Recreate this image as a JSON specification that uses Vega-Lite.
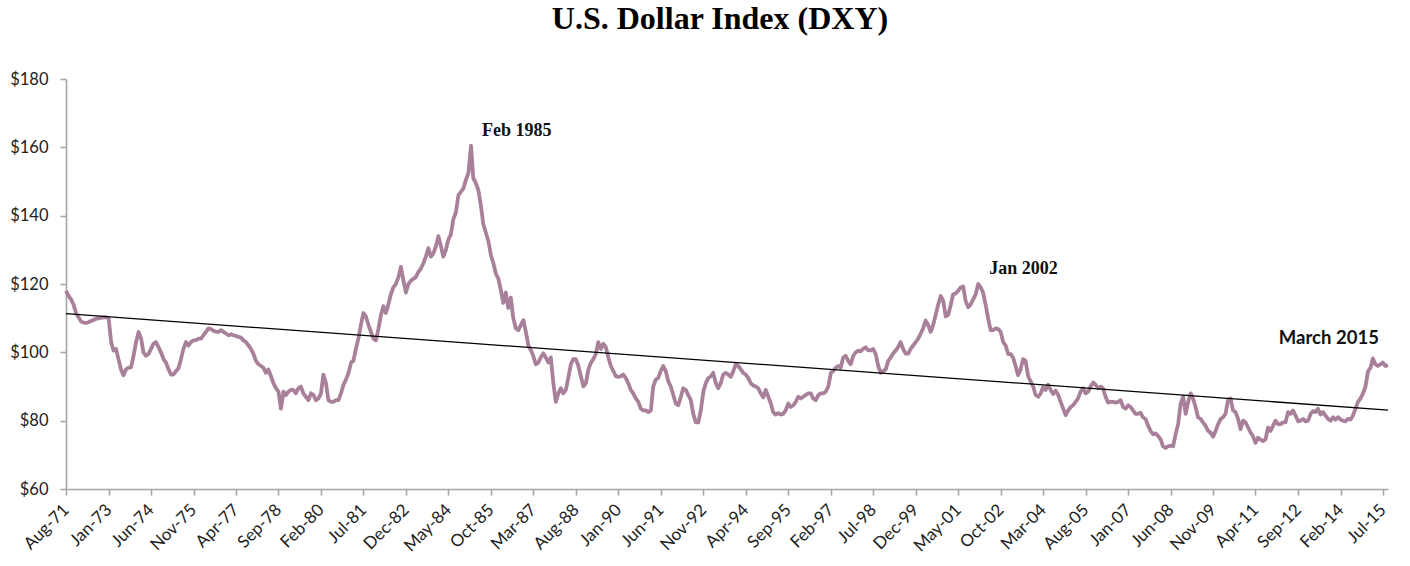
{
  "$schema": "https://vega.github.io/schema/vega-lite/v6.json",
  "width": 1322,
  "height": 410,
  "autosize": {"type": "none"},
  "padding": {"left": 66, "top": 79, "right": 22, "bottom": 77},
  "background": "white",
  "config": {
    "view": {"stroke": null},
    "axis": {
      "grid": false,
      "domainColor": "#a6a6a6",
      "domainWidth": 1.6,
      "tickColor": "#a6a6a6",
      "tickWidth": 1.6,
      "tickSize": 6,
      "labelFont": "Lato",
      "labelFontSize": 16.5,
      "labelColor": "#222222",
      "title": null
    }
  },
  "title": {
    "text": "U.S. Dollar Index (DXY)",
    "font": "Liberation Serif",
    "fontSize": 32,
    "fontWeight": "bold",
    "color": "#000000",
    "anchor": "middle",
    "baseline": "alphabetic",
    "offset": 10,
    "dx": -7
  },
  "datasets": {
    "dxy": [
      {"date":"1971-08-01","index":118},{"date":"1971-09-01","index":116.5},{"date":"1971-10-01","index":115.5},{"date":"1971-11-01","index":114},{"date":"1971-12-01","index":111.5},
      {"date":"1972-01-01","index":110.3},{"date":"1972-02-01","index":109},{"date":"1972-03-01","index":108.7},{"date":"1972-04-01","index":108.6},{"date":"1972-05-01","index":108.8},{"date":"1972-06-01","index":109.2},{"date":"1972-07-01","index":109.5},{"date":"1972-08-01","index":109.8},{"date":"1972-09-01","index":110},{"date":"1972-10-01","index":110.1},{"date":"1972-11-01","index":110.2},{"date":"1972-12-01","index":110.3},
      {"date":"1973-01-01","index":110},{"date":"1973-02-01","index":103},{"date":"1973-03-01","index":100.5},{"date":"1973-04-01","index":101},{"date":"1973-05-01","index":98},{"date":"1973-06-01","index":95},{"date":"1973-07-01","index":93.3},{"date":"1973-08-01","index":95},{"date":"1973-09-01","index":95.5},{"date":"1973-10-01","index":95.6},{"date":"1973-11-01","index":99},{"date":"1973-12-01","index":103},
      {"date":"1974-01-01","index":106},{"date":"1974-02-01","index":104},{"date":"1974-03-01","index":100},{"date":"1974-04-01","index":99},{"date":"1974-05-01","index":99.5},{"date":"1974-06-01","index":101},{"date":"1974-07-01","index":102.5},{"date":"1974-08-01","index":103},{"date":"1974-09-01","index":101.5},{"date":"1974-10-01","index":100},{"date":"1974-11-01","index":98},{"date":"1974-12-01","index":97},
      {"date":"1975-01-01","index":95},{"date":"1975-02-01","index":93.5},{"date":"1975-03-01","index":93.5},{"date":"1975-04-01","index":94.5},{"date":"1975-05-01","index":95.3},{"date":"1975-06-01","index":98},{"date":"1975-07-01","index":101},{"date":"1975-08-01","index":103},{"date":"1975-09-01","index":102},{"date":"1975-10-01","index":103},{"date":"1975-11-01","index":103.5},{"date":"1975-12-01","index":103.6},
      {"date":"1976-01-01","index":104},{"date":"1976-02-01","index":104},{"date":"1976-03-01","index":105},{"date":"1976-04-01","index":106},{"date":"1976-05-01","index":107},{"date":"1976-06-01","index":106.8},{"date":"1976-07-01","index":106.3},{"date":"1976-08-01","index":106},{"date":"1976-09-01","index":106},{"date":"1976-10-01","index":106.5},{"date":"1976-11-01","index":106},{"date":"1976-12-01","index":105.5},
      {"date":"1977-01-01","index":105},{"date":"1977-02-01","index":105.3},{"date":"1977-03-01","index":105},{"date":"1977-04-01","index":104.8},{"date":"1977-05-01","index":104.5},{"date":"1977-06-01","index":104.3},{"date":"1977-07-01","index":103.5},{"date":"1977-08-01","index":103},{"date":"1977-09-01","index":102},{"date":"1977-10-01","index":101},{"date":"1977-11-01","index":99.5},{"date":"1977-12-01","index":97.5},
      {"date":"1978-01-01","index":96.5},{"date":"1978-02-01","index":96},{"date":"1978-03-01","index":95.5},{"date":"1978-04-01","index":94},{"date":"1978-05-01","index":95},{"date":"1978-06-01","index":93},{"date":"1978-07-01","index":91},{"date":"1978-08-01","index":89.5},{"date":"1978-09-01","index":88.5},{"date":"1978-10-01","index":83.5},{"date":"1978-11-01","index":88.5},{"date":"1978-12-01","index":87.5},
      {"date":"1979-01-01","index":88.5},{"date":"1979-02-01","index":89},{"date":"1979-03-01","index":89},{"date":"1979-04-01","index":88},{"date":"1979-05-01","index":89.5},{"date":"1979-06-01","index":90},{"date":"1979-07-01","index":88},{"date":"1979-08-01","index":87},{"date":"1979-09-01","index":86},{"date":"1979-10-01","index":88},{"date":"1979-11-01","index":87.5},{"date":"1979-12-01","index":86},
      {"date":"1980-01-01","index":86.5},{"date":"1980-02-01","index":88},{"date":"1980-03-01","index":93.5},{"date":"1980-04-01","index":91},{"date":"1980-05-01","index":86},{"date":"1980-06-01","index":85.5},{"date":"1980-07-01","index":85.5},{"date":"1980-08-01","index":86},{"date":"1980-09-01","index":86},{"date":"1980-10-01","index":88},{"date":"1980-11-01","index":90.5},{"date":"1980-12-01","index":92},
      {"date":"1981-01-01","index":94},{"date":"1981-02-01","index":97},{"date":"1981-03-01","index":97.5},{"date":"1981-04-01","index":101},{"date":"1981-05-01","index":104},{"date":"1981-06-01","index":108},{"date":"1981-07-01","index":111.5},{"date":"1981-08-01","index":110.5},{"date":"1981-09-01","index":108},{"date":"1981-10-01","index":106},{"date":"1981-11-01","index":104},{"date":"1981-12-01","index":103.5},
      {"date":"1982-01-01","index":107},{"date":"1982-02-01","index":111},{"date":"1982-03-01","index":113.5},{"date":"1982-04-01","index":111.5},{"date":"1982-05-01","index":114},{"date":"1982-06-01","index":117},{"date":"1982-07-01","index":119},{"date":"1982-08-01","index":120},{"date":"1982-09-01","index":122},{"date":"1982-10-01","index":125},{"date":"1982-11-01","index":121},{"date":"1982-12-01","index":117.5},
      {"date":"1983-01-01","index":120},{"date":"1983-02-01","index":121},{"date":"1983-03-01","index":121.5},{"date":"1983-04-01","index":122},{"date":"1983-05-01","index":123.5},{"date":"1983-06-01","index":124.5},{"date":"1983-07-01","index":126},{"date":"1983-08-01","index":128},{"date":"1983-09-01","index":130.5},{"date":"1983-10-01","index":128},{"date":"1983-11-01","index":129},{"date":"1983-12-01","index":131},
      {"date":"1984-01-01","index":134},{"date":"1984-02-01","index":131},{"date":"1984-03-01","index":128},{"date":"1984-04-01","index":130},{"date":"1984-05-01","index":133},{"date":"1984-06-01","index":134.5},{"date":"1984-07-01","index":139},{"date":"1984-08-01","index":141},{"date":"1984-09-01","index":146},{"date":"1984-10-01","index":147},{"date":"1984-11-01","index":148},{"date":"1984-12-01","index":150.5},
      {"date":"1985-01-01","index":152.5},{"date":"1985-02-01","index":160.5},{"date":"1985-03-01","index":151},{"date":"1985-04-01","index":149.5},{"date":"1985-05-01","index":147.5},{"date":"1985-06-01","index":143},{"date":"1985-07-01","index":137.5},{"date":"1985-08-01","index":135},{"date":"1985-09-01","index":132.5},{"date":"1985-10-01","index":128.5},{"date":"1985-11-01","index":126},{"date":"1985-12-01","index":123},
      {"date":"1986-01-01","index":121.5},{"date":"1986-02-01","index":118},{"date":"1986-03-01","index":114.5},{"date":"1986-04-01","index":117.5},{"date":"1986-05-01","index":113},{"date":"1986-06-01","index":116},{"date":"1986-07-01","index":110},{"date":"1986-08-01","index":107},{"date":"1986-09-01","index":106.5},{"date":"1986-10-01","index":108},{"date":"1986-11-01","index":109.4},{"date":"1986-12-01","index":106},
      {"date":"1987-01-01","index":102},{"date":"1987-02-01","index":100.6},{"date":"1987-03-01","index":99},{"date":"1987-04-01","index":96.5},{"date":"1987-05-01","index":97},{"date":"1987-06-01","index":98.5},{"date":"1987-07-01","index":99.7},{"date":"1987-08-01","index":98.5},{"date":"1987-09-01","index":97},{"date":"1987-10-01","index":98.5},{"date":"1987-11-01","index":91},{"date":"1987-12-01","index":85.5},
      {"date":"1988-01-01","index":88},{"date":"1988-02-01","index":89.5},{"date":"1988-03-01","index":88},{"date":"1988-04-01","index":89},{"date":"1988-05-01","index":92.5},{"date":"1988-06-01","index":96.5},{"date":"1988-07-01","index":98},{"date":"1988-08-01","index":98},{"date":"1988-09-01","index":96},{"date":"1988-10-01","index":93},{"date":"1988-11-01","index":90},{"date":"1988-12-01","index":91},
      {"date":"1989-01-01","index":95},{"date":"1989-02-01","index":97},{"date":"1989-03-01","index":98},{"date":"1989-04-01","index":99.5},{"date":"1989-05-01","index":103},{"date":"1989-06-01","index":101},{"date":"1989-07-01","index":102.5},{"date":"1989-08-01","index":101.5},{"date":"1989-09-01","index":98.5},{"date":"1989-10-01","index":96},{"date":"1989-11-01","index":94.5},{"date":"1989-12-01","index":93},
      {"date":"1990-01-01","index":92.8},{"date":"1990-02-01","index":93},{"date":"1990-03-01","index":93.5},{"date":"1990-04-01","index":92.5},{"date":"1990-05-01","index":91},{"date":"1990-06-01","index":89},{"date":"1990-07-01","index":88},{"date":"1990-08-01","index":86.5},{"date":"1990-09-01","index":85.5},{"date":"1990-10-01","index":83.5},{"date":"1990-11-01","index":83},{"date":"1990-12-01","index":83},
      {"date":"1991-01-01","index":82.5},{"date":"1991-02-01","index":83},{"date":"1991-03-01","index":90},{"date":"1991-04-01","index":92},{"date":"1991-05-01","index":92.5},{"date":"1991-06-01","index":94.5},{"date":"1991-07-01","index":96},{"date":"1991-08-01","index":94.5},{"date":"1991-09-01","index":91.5},{"date":"1991-10-01","index":90},{"date":"1991-11-01","index":87.5},{"date":"1991-12-01","index":85},
      {"date":"1992-01-01","index":84.5},{"date":"1992-02-01","index":87},{"date":"1992-03-01","index":89.5},{"date":"1992-04-01","index":89},{"date":"1992-05-01","index":87.5},{"date":"1992-06-01","index":86},{"date":"1992-07-01","index":82},{"date":"1992-08-01","index":79.5},{"date":"1992-09-01","index":79.5},{"date":"1992-10-01","index":83},{"date":"1992-11-01","index":88.5},{"date":"1992-12-01","index":91},
      {"date":"1993-01-01","index":92.5},{"date":"1993-02-01","index":93},{"date":"1993-03-01","index":94},{"date":"1993-04-01","index":91},{"date":"1993-05-01","index":89.5},{"date":"1993-06-01","index":91},{"date":"1993-07-01","index":93.5},{"date":"1993-08-01","index":94},{"date":"1993-09-01","index":93.5},{"date":"1993-10-01","index":92.8},{"date":"1993-11-01","index":94.5},{"date":"1993-12-01","index":96.5},
      {"date":"1994-01-01","index":96},{"date":"1994-02-01","index":95},{"date":"1994-03-01","index":94},{"date":"1994-04-01","index":93.5},{"date":"1994-05-01","index":92.5},{"date":"1994-06-01","index":91},{"date":"1994-07-01","index":90.3},{"date":"1994-08-01","index":90},{"date":"1994-09-01","index":89.5},{"date":"1994-10-01","index":88},{"date":"1994-11-01","index":86.8},{"date":"1994-12-01","index":89},
      {"date":"1995-01-01","index":87},{"date":"1995-02-01","index":85},{"date":"1995-03-01","index":82.5},{"date":"1995-04-01","index":81.8},{"date":"1995-05-01","index":82.2},{"date":"1995-06-01","index":81.8},{"date":"1995-07-01","index":82},{"date":"1995-08-01","index":83},{"date":"1995-09-01","index":85},{"date":"1995-10-01","index":84},{"date":"1995-11-01","index":84.5},{"date":"1995-12-01","index":85.5},
      {"date":"1996-01-01","index":87},{"date":"1996-02-01","index":86.5},{"date":"1996-03-01","index":87},{"date":"1996-04-01","index":87.5},{"date":"1996-05-01","index":88},{"date":"1996-06-01","index":88},{"date":"1996-07-01","index":86.5},{"date":"1996-08-01","index":86},{"date":"1996-09-01","index":87.5},{"date":"1996-10-01","index":88},{"date":"1996-11-01","index":88},{"date":"1996-12-01","index":88.5},
      {"date":"1997-01-01","index":90},{"date":"1997-02-01","index":94},{"date":"1997-03-01","index":94.5},{"date":"1997-04-01","index":95.5},{"date":"1997-05-01","index":96},{"date":"1997-06-01","index":95.5},{"date":"1997-07-01","index":98.5},{"date":"1997-08-01","index":99},{"date":"1997-09-01","index":97.5},{"date":"1997-10-01","index":96.5},{"date":"1997-11-01","index":99},{"date":"1997-12-01","index":100},
      {"date":"1998-01-01","index":100.5},{"date":"1998-02-01","index":100.3},{"date":"1998-03-01","index":101},{"date":"1998-04-01","index":101.5},{"date":"1998-05-01","index":100.6},{"date":"1998-06-01","index":100.6},{"date":"1998-07-01","index":101},{"date":"1998-08-01","index":99.5},{"date":"1998-09-01","index":96},{"date":"1998-10-01","index":94},{"date":"1998-11-01","index":94.5},{"date":"1998-12-01","index":95},
      {"date":"1999-01-01","index":97.5},{"date":"1999-02-01","index":98.5},{"date":"1999-03-01","index":99.7},{"date":"1999-04-01","index":100.5},{"date":"1999-05-01","index":101.5},{"date":"1999-06-01","index":103},{"date":"1999-07-01","index":101},{"date":"1999-08-01","index":99.6},{"date":"1999-09-01","index":99.6},{"date":"1999-10-01","index":101},{"date":"1999-11-01","index":102},{"date":"1999-12-01","index":103},
      {"date":"2000-01-01","index":104},{"date":"2000-02-01","index":105.5},{"date":"2000-03-01","index":107},{"date":"2000-04-01","index":109.3},{"date":"2000-05-01","index":108},{"date":"2000-06-01","index":106},{"date":"2000-07-01","index":108},{"date":"2000-08-01","index":111},{"date":"2000-09-01","index":114},{"date":"2000-10-01","index":116.5},{"date":"2000-11-01","index":115},{"date":"2000-12-01","index":110.5},
      {"date":"2001-01-01","index":111},{"date":"2001-02-01","index":114},{"date":"2001-03-01","index":117},{"date":"2001-04-01","index":117.2},{"date":"2001-05-01","index":118},{"date":"2001-06-01","index":119},{"date":"2001-07-01","index":119.3},{"date":"2001-08-01","index":115},{"date":"2001-09-01","index":113.2},{"date":"2001-10-01","index":114},{"date":"2001-11-01","index":115.5},{"date":"2001-12-01","index":117},
      {"date":"2002-01-01","index":120},{"date":"2002-02-01","index":119},{"date":"2002-03-01","index":117.5},{"date":"2002-04-01","index":114},{"date":"2002-05-01","index":110},{"date":"2002-06-01","index":106.5},{"date":"2002-07-01","index":106.5},{"date":"2002-08-01","index":107},{"date":"2002-09-01","index":106.8},{"date":"2002-10-01","index":106},{"date":"2002-11-01","index":103},{"date":"2002-12-01","index":102},
      {"date":"2003-01-01","index":99.5},{"date":"2003-02-01","index":99.5},{"date":"2003-03-01","index":98.5},{"date":"2003-04-01","index":96},{"date":"2003-05-01","index":93.3},{"date":"2003-06-01","index":95},{"date":"2003-07-01","index":98},{"date":"2003-08-01","index":97.5},{"date":"2003-09-01","index":93},{"date":"2003-10-01","index":91.5},{"date":"2003-11-01","index":90},{"date":"2003-12-01","index":87.5},
      {"date":"2004-01-01","index":87},{"date":"2004-02-01","index":88},{"date":"2004-03-01","index":89.8},{"date":"2004-04-01","index":89},{"date":"2004-05-01","index":90.5},{"date":"2004-06-01","index":89},{"date":"2004-07-01","index":87.8},{"date":"2004-08-01","index":88.8},{"date":"2004-09-01","index":87.5},{"date":"2004-10-01","index":85.5},{"date":"2004-11-01","index":83.5},{"date":"2004-12-01","index":81.6},
      {"date":"2005-01-01","index":83},{"date":"2005-02-01","index":84},{"date":"2005-03-01","index":84.5},{"date":"2005-04-01","index":85.5},{"date":"2005-05-01","index":86.5},{"date":"2005-06-01","index":88.5},{"date":"2005-07-01","index":89.5},{"date":"2005-08-01","index":88},{"date":"2005-09-01","index":88.5},{"date":"2005-10-01","index":90},{"date":"2005-11-01","index":91.2},{"date":"2005-12-01","index":90.5},
      {"date":"2006-01-01","index":89.5},{"date":"2006-02-01","index":90},{"date":"2006-03-01","index":89.5},{"date":"2006-04-01","index":87},{"date":"2006-05-01","index":85.3},{"date":"2006-06-01","index":85.5},{"date":"2006-07-01","index":85.5},{"date":"2006-08-01","index":85.3},{"date":"2006-09-01","index":85.5},{"date":"2006-10-01","index":86},{"date":"2006-11-01","index":84},{"date":"2006-12-01","index":83.5},
      {"date":"2007-01-01","index":84.5},{"date":"2007-02-01","index":84},{"date":"2007-03-01","index":83},{"date":"2007-04-01","index":82},{"date":"2007-05-01","index":82},{"date":"2007-06-01","index":82.3},{"date":"2007-07-01","index":81},{"date":"2007-08-01","index":80.5},{"date":"2007-09-01","index":78.5},{"date":"2007-10-01","index":77},{"date":"2007-11-01","index":76},{"date":"2007-12-01","index":76.3},
      {"date":"2008-01-01","index":75.5},{"date":"2008-02-01","index":74.5},{"date":"2008-03-01","index":72.5},{"date":"2008-04-01","index":72},{"date":"2008-05-01","index":72.5},{"date":"2008-06-01","index":72.7},{"date":"2008-07-01","index":72.5},{"date":"2008-08-01","index":76},{"date":"2008-09-01","index":79},{"date":"2008-10-01","index":85},{"date":"2008-11-01","index":87},{"date":"2008-12-01","index":82},
      {"date":"2009-01-01","index":85.5},{"date":"2009-02-01","index":88},{"date":"2009-03-01","index":86.5},{"date":"2009-04-01","index":84},{"date":"2009-05-01","index":81},{"date":"2009-06-01","index":80.5},{"date":"2009-07-01","index":79.5},{"date":"2009-08-01","index":78.5},{"date":"2009-09-01","index":77},{"date":"2009-10-01","index":76.5},{"date":"2009-11-01","index":75.3},{"date":"2009-12-01","index":77},
      {"date":"2010-01-01","index":79},{"date":"2010-02-01","index":80.5},{"date":"2010-03-01","index":81},{"date":"2010-04-01","index":82},{"date":"2010-05-01","index":86},{"date":"2010-06-01","index":86.5},{"date":"2010-07-01","index":83},{"date":"2010-08-01","index":82.5},{"date":"2010-09-01","index":80.5},{"date":"2010-10-01","index":77.5},{"date":"2010-11-01","index":80},{"date":"2010-12-01","index":79.5},
      {"date":"2011-01-01","index":78},{"date":"2011-02-01","index":76.5},{"date":"2011-03-01","index":75.5},{"date":"2011-04-01","index":73.5},{"date":"2011-05-01","index":75},{"date":"2011-06-01","index":74.5},{"date":"2011-07-01","index":74},{"date":"2011-08-01","index":74.5},{"date":"2011-09-01","index":78},{"date":"2011-10-01","index":77},{"date":"2011-11-01","index":78.5},{"date":"2011-12-01","index":80},
      {"date":"2012-01-01","index":79},{"date":"2012-02-01","index":79},{"date":"2012-03-01","index":79.5},{"date":"2012-04-01","index":79.5},{"date":"2012-05-01","index":82.5},{"date":"2012-06-01","index":82},{"date":"2012-07-01","index":83},{"date":"2012-08-01","index":81.5},{"date":"2012-09-01","index":79.8},{"date":"2012-10-01","index":80},{"date":"2012-11-01","index":80.5},{"date":"2012-12-01","index":79.8},
      {"date":"2013-01-01","index":80},{"date":"2013-02-01","index":82},{"date":"2013-03-01","index":82.8},{"date":"2013-04-01","index":82.5},{"date":"2013-05-01","index":83.5},{"date":"2013-06-01","index":81.8},{"date":"2013-07-01","index":82.5},{"date":"2013-08-01","index":81.5},{"date":"2013-09-01","index":80.5},{"date":"2013-10-01","index":80},{"date":"2013-11-01","index":81},{"date":"2013-12-01","index":80.3},
      {"date":"2014-01-01","index":81},{"date":"2014-02-01","index":80.3},{"date":"2014-03-01","index":80},{"date":"2014-04-01","index":79.8},{"date":"2014-05-01","index":80.5},{"date":"2014-06-01","index":80.3},{"date":"2014-07-01","index":81.5},{"date":"2014-08-01","index":83.5},{"date":"2014-09-01","index":85.5},{"date":"2014-10-01","index":86.5},{"date":"2014-11-01","index":88},{"date":"2014-12-01","index":90},
      {"date":"2015-01-01","index":94.5},{"date":"2015-02-01","index":95.5},{"date":"2015-03-01","index":98.2},{"date":"2015-04-01","index":96.5},{"date":"2015-05-01","index":96},{"date":"2015-06-01","index":96.5},{"date":"2015-07-01","index":97},{"date":"2015-08-01","index":96},{"date":"2015-09-01","index":96.3}
    ],
    "trend": [
      {"date":"1971-08-01","index":111.3},
      {"date":"2015-09-01","index":83.1}
    ],
    "notes": [
      {"date":"1985-02-01","index":160.5,"note":"Feb 1985","side":"left"},
      {"date":"2002-01-01","index":120,"note":"Jan 2002","side":"left"},
      {"date":"2015-03-01","index":98.2,"note":"March 2015","side":"right"}
    ]
  },
  "layer": [
    {
      "data": {"name": "dxy"},
      "mark": {"type": "line", "color": "#a8809a", "strokeWidth": 3.8, "strokeJoin": "round"},
      "encoding": {
        "x": {
          "field": "date",
          "type": "temporal",
          "scale": {
            "type": "utc",
            "domain": [
              {"year": 1971, "month": 8, "date": 1, "utc": true},
              {"year": 2015, "month": 9, "date": 1, "utc": true}
            ]
          },
          "axis": {
            "format": "%b-%y",
            "labelAngle": -45,
            "labelAlign": "right",
            "labelBaseline": "middle",
            "labelPadding": 12,
            "labelFontSize": 17,
            "labelOverlap": false,
            "values": [
              {"year": 1971, "month": 8, "date": 1, "utc": true},
              {"year": 1973, "month": 1, "date": 1, "utc": true},
              {"year": 1974, "month": 6, "date": 1, "utc": true},
              {"year": 1975, "month": 11, "date": 1, "utc": true},
              {"year": 1977, "month": 4, "date": 1, "utc": true},
              {"year": 1978, "month": 9, "date": 1, "utc": true},
              {"year": 1980, "month": 2, "date": 1, "utc": true},
              {"year": 1981, "month": 7, "date": 1, "utc": true},
              {"year": 1982, "month": 12, "date": 1, "utc": true},
              {"year": 1984, "month": 5, "date": 1, "utc": true},
              {"year": 1985, "month": 10, "date": 1, "utc": true},
              {"year": 1987, "month": 3, "date": 1, "utc": true},
              {"year": 1988, "month": 8, "date": 1, "utc": true},
              {"year": 1990, "month": 1, "date": 1, "utc": true},
              {"year": 1991, "month": 6, "date": 1, "utc": true},
              {"year": 1992, "month": 11, "date": 1, "utc": true},
              {"year": 1994, "month": 4, "date": 1, "utc": true},
              {"year": 1995, "month": 9, "date": 1, "utc": true},
              {"year": 1997, "month": 2, "date": 1, "utc": true},
              {"year": 1998, "month": 7, "date": 1, "utc": true},
              {"year": 1999, "month": 12, "date": 1, "utc": true},
              {"year": 2001, "month": 5, "date": 1, "utc": true},
              {"year": 2002, "month": 10, "date": 1, "utc": true},
              {"year": 2004, "month": 3, "date": 1, "utc": true},
              {"year": 2005, "month": 8, "date": 1, "utc": true},
              {"year": 2007, "month": 1, "date": 1, "utc": true},
              {"year": 2008, "month": 6, "date": 1, "utc": true},
              {"year": 2009, "month": 11, "date": 1, "utc": true},
              {"year": 2011, "month": 4, "date": 1, "utc": true},
              {"year": 2012, "month": 9, "date": 1, "utc": true},
              {"year": 2014, "month": 2, "date": 1, "utc": true},
              {"year": 2015, "month": 7, "date": 1, "utc": true}
            ]
          }
        },
        "y": {
          "field": "index",
          "type": "quantitative",
          "scale": {"domain": [60, 180], "nice": false, "zero": false},
          "axis": {
            "values": [60, 80, 100, 120, 140, 160, 180],
            "format": "$.0f",
            "labelPadding": 12
          }
        }
      }
    },
    {
      "data": {"name": "trend"},
      "mark": {"type": "line", "color": "#000000", "strokeWidth": 1.3},
      "encoding": {
        "x": {"field": "date", "type": "temporal"},
        "y": {"field": "index", "type": "quantitative"}
      }
    },
    {
      "data": {"name": "notes"},
      "transform": [{"filter": "datum.side === 'left'"}],
      "mark": {"type": "text", "font": "Liberation Serif", "fontSize": 18, "fontWeight": "bold", "color": "#111111", "align": "left", "baseline": "alphabetic", "dx": 11, "dy": -10},
      "encoding": {
        "x": {"field": "date", "type": "temporal"},
        "y": {"field": "index", "type": "quantitative"},
        "text": {"field": "note"}
      }
    },
    {
      "data": {"name": "notes"},
      "transform": [{"filter": "datum.side === 'right'"}],
      "mark": {"type": "text", "font": "Lato", "fontSize": 18.5, "fontWeight": "bold", "color": "#111111", "align": "right", "baseline": "alphabetic", "dx": 6, "dy": -14},
      "encoding": {
        "x": {"field": "date", "type": "temporal"},
        "y": {"field": "index", "type": "quantitative"},
        "text": {"field": "note"}
      }
    }
  ]
}
